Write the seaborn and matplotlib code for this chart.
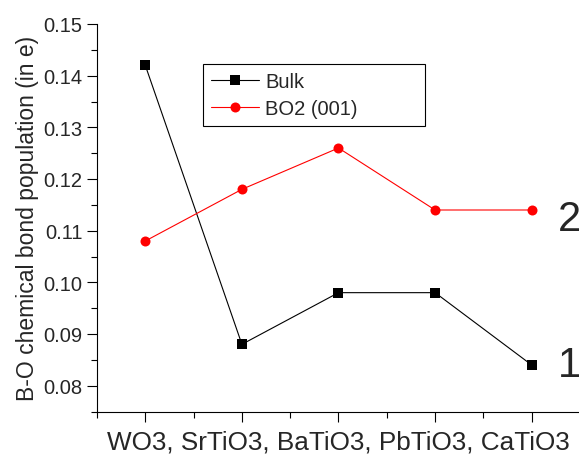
import matplotlib
matplotlib.use("Agg")
import matplotlib.pyplot as plt
import seaborn as sns
import pandas as pd
from matplotlib.ticker import MultipleLocator, FormatStrFormatter

# datos
compounds = ["WO3", "SrTiO3", "BaTiO3", "PbTiO3", "CaTiO3"]
bulk = [0.142, 0.088, 0.098, 0.098, 0.084]
bo2 = [0.108, 0.118, 0.126, 0.114, 0.114]
series_names = ["Bulk", "BO2 (001)"]
end_labels = ["1", "2"]
end_label_y = [0.084, 0.1123]

df_bulk = pd.DataFrame({"compound": compounds, "value": bulk})
df_bo2 = pd.DataFrame({"compound": compounds, "value": bo2})

sns.set_style("ticks")
plt.rcParams["font.family"] = ["Liberation Sans", "DejaVu Sans"]

fig = plt.figure(figsize=(5.79, 4.56), dpi=100)
ax = fig.add_axes([97 / 579, (456 - 412.5) / 456, (580 - 97) / 579, (412.5 - 25) / 456])

sns.lineplot(data=df_bulk, x="compound", y="value", sort=False, color="black",
             marker="s", markersize=6.5, markeredgewidth=0, linewidth=0.8,
             label=series_names[0], ax=ax)
sns.lineplot(data=df_bo2, x="compound", y="value", sort=False, color="red",
             marker="o", markersize=7.2, markeredgewidth=0, linewidth=0.8,
             label=series_names[1], ax=ax)

# etiquetas 1 y 2 a la derecha
for lab, yy in zip(end_labels, end_label_y):
    ax.text(4.27, yy, lab, fontsize=30, va="center", ha="left")

ax.set_xlim(-0.5, 4.5)
ax.set_ylim(0.075, 0.15)
ax.xaxis.set_minor_locator(MultipleLocator(0.5))
ax.yaxis.set_major_locator(MultipleLocator(0.01))
ax.yaxis.set_minor_locator(MultipleLocator(0.005))
ax.yaxis.set_major_formatter(FormatStrFormatter("%.2f"))
ax.tick_params(axis="x", which="both", labelbottom=False)
ax.tick_params(which="major", length=7, width=0.8, color="black", labelsize=14.5)
ax.tick_params(which="minor", length=4, width=0.8, color="black")

for s in ["top", "right"]:
    ax.spines[s].set_visible(False)
for s in ["left", "bottom"]:
    ax.spines[s].set_linewidth(0.8)
    ax.spines[s].set_color("black")

ax.set_xlabel(", ".join(compounds), fontsize=18.8, labelpad=6)
ax.set_ylabel("B-O chemical bond population (in e)", fontsize=16.5, labelpad=3)

leg = ax.legend(loc="upper left", bbox_to_anchor=(0.219, 0.897, 0.46, 0.0),
                mode="expand", borderaxespad=0, fontsize=14.5, frameon=True,
                fancybox=False, handlelength=2.4, handletextpad=0.3,
                labelspacing=0.38, borderpad=0.4)
leg.get_frame().set_edgecolor("black")
leg.get_frame().set_linewidth(0.8)
leg.get_frame().set_alpha(1)

fig.savefig("out.png", dpi=100)
